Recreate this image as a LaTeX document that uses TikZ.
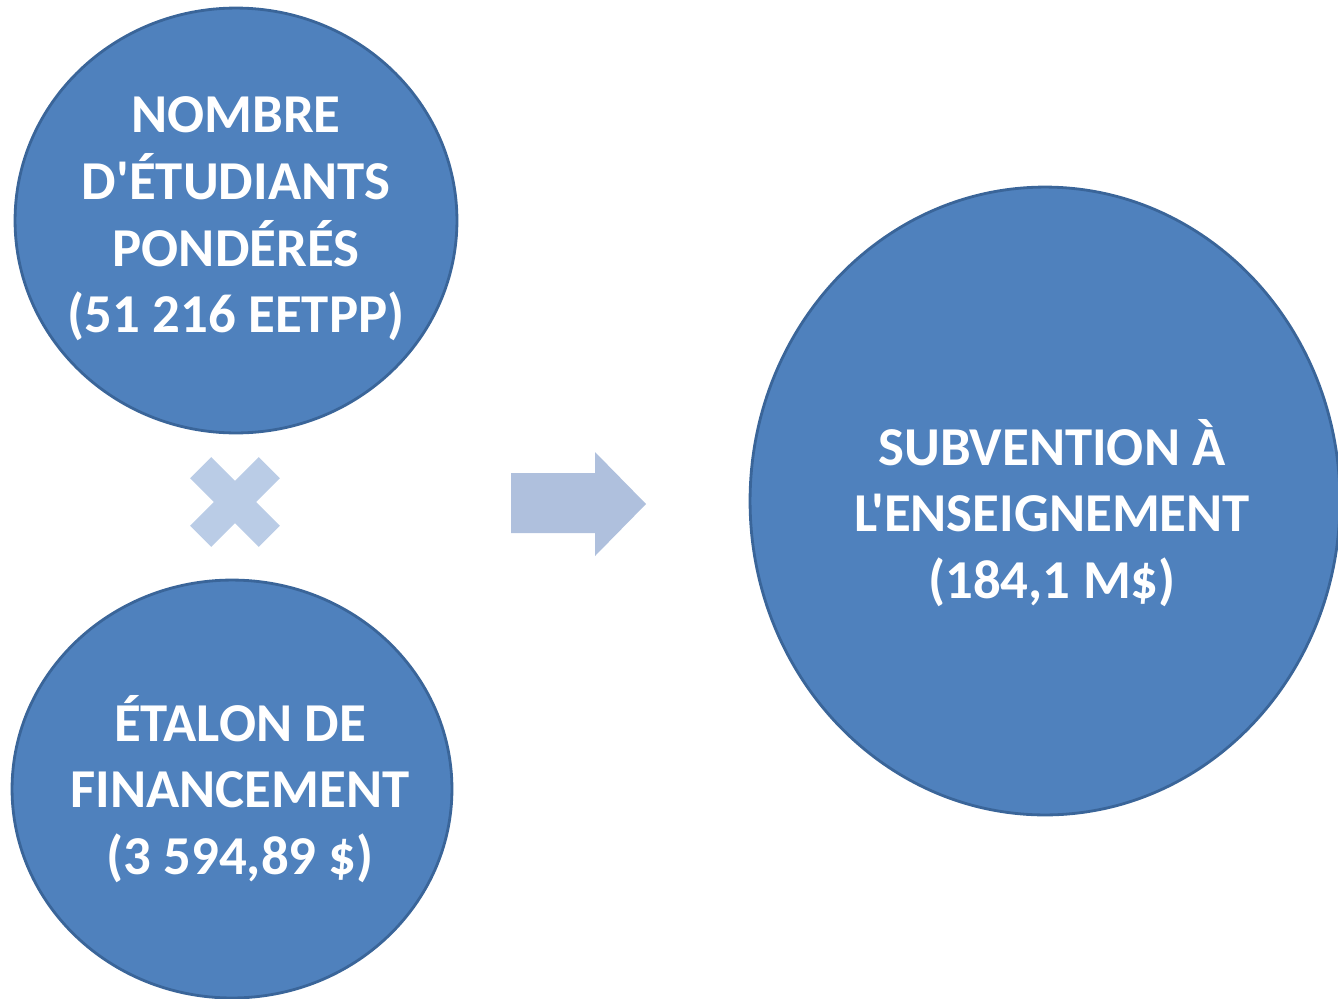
\documentclass[tikz,border=0pt]{standalone}
\usepackage{fontspec}
\setmainfont{Carlito}[Ligatures=TeXOff]
\usetikzlibrary{shapes.geometric}

\definecolor{bulleblue}{HTML}{4F81BD}
\definecolor{bulleedge}{HTML}{3A6599}
\definecolor{signeblue}{HTML}{BACCE6}
\definecolor{flecheblue}{HTML}{AFC0DD}

\tikzset{
	bulle/.style={ellipse, fill=bulleblue, draw=bulleedge, line width=1.6pt, inner sep=0pt},
	bulletext/.style={align=center, text=white, font=\fontsize{31.2}{38}\selectfont\bfseries}
}

\begin{document}
\begin{tikzpicture}[x=0.02cm, y=-0.02cm]
		\useasboundingbox (0, 0) rectangle (1338, 998);
		\clip (0, 0) rectangle (1338, 998);

		\node [bulle, minimum width=8.84cm, minimum height=8.5cm] (etudiants) at (236, 220.5) {};
		\node [bulletext] (etudiantstext) at (236, 219) {NOMBRE\\D'ÉTUDIANTS\\PONDÉRÉS\\(51 216 EETPP)};

		\node [bulle, minimum width=8.8cm, minimum height=8.36cm] (etalon) at (232, 789) {};
		\node [bulletext] (etalontext) at (240, 789) {ÉTALON DE\\FINANCEMENT\\(3 594,89 \$)};

		\node [bulle, minimum width=11.8cm, minimum height=12.56cm] (subvention) at (1045, 501) {};
		\node [bulletext] (subventiontext) at (1052, 513) {SUBVENTION À\\L'ENSEIGNEMENT\\(184,1 M\$)};

		%\node at (235, 502) (fois) {x};
		\fill[signeblue, rotate around={45:(235, 502)}] (235 - 48.5, 502 - 15) rectangle (235 + 48.5, 502 + 15);
		\fill[signeblue, rotate around={-45:(235, 502)}] (235 - 48.5, 502 - 15) rectangle (235 + 48.5, 502 + 15);

		\fill[flecheblue] (511, 473) -- (595, 473) -- (595, 452) -- (646, 504) -- (595, 556) -- (595, 533) -- (511, 533) -- cycle;
	\end{tikzpicture}
\end{document}
